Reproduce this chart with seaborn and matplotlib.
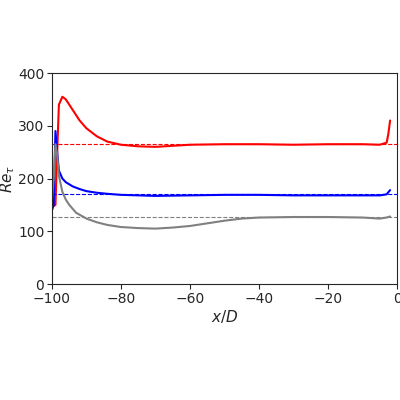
import matplotlib
matplotlib.use("Agg")
import matplotlib.pyplot as plt
import seaborn as sns

sns.set_style("ticks")
plt.rcParams['font.family'] = ['DejaVu Sans']
plt.rcParams['mathtext.fontset'] = 'dejavusans'

x_red = [-100, -99.5, -99, -98.5, -98, -97, -96, -94, -92, -90, -87, -84, -80, -75, -70, -65, -60, -50, -40, -30, -20, -10, -5, -3, -2.5, -2]
y_red = [175, 148, 150, 250, 340, 355, 350, 330, 310, 295, 280, 270, 264, 261, 260, 262, 264, 265, 265, 264, 265, 265, 264, 268, 285, 310]
x_blue = [-100, -99.5, -99, -98.5, -98, -97, -96, -94, -92, -90, -87, -84, -80, -70, -60, -50, -40, -30, -20, -10, -5, -3, -2]
y_blue = [140, 150, 290, 250, 215, 200, 193, 185, 180, 176, 173, 171, 169, 167, 168, 169, 169, 168, 168, 168, 168, 170, 178]
x_gray = [-100, -99.5, -99, -98.5, -98, -97, -96, -95, -93, -90, -87, -84, -80, -75, -70, -65, -60, -55, -50, -45, -40, -30, -20, -10, -5, -3, -2]
y_gray = [160, 200, 265, 245, 205, 175, 160, 150, 135, 124, 117, 112, 108, 106, 105, 107, 110, 115, 120, 124, 126, 127, 127, 126, 124, 126, 128]
ref_levels = [265, 170, 127]
colors = ['red', 'blue', 'gray']

fig = plt.figure(figsize=(4, 4), dpi=100)
ax = fig.add_axes([0.13, 0.29, 0.8625, 0.5275])
for xs, ys, c, lvl in zip([x_red, x_blue, x_gray], [y_red, y_blue, y_gray], colors, ref_levels):
    sns.lineplot(x=xs, y=ys, color=c, lw=1.5, ax=ax, estimator=None)
    ax.axhline(lvl, color=c, ls='--', lw=0.8)
ax.set_xlim(-100, 0)
ax.set_ylim(0, 400)
ax.set_xticks([-100, -80, -60, -40, -20, 0])
ax.set_yticks([0, 100, 200, 300, 400])
ax.tick_params(labelsize=10, pad=2)
ax.set_xlabel(r'$x/D$', fontsize=11, labelpad=2)
ax.set_ylabel(r'$Re_\tau$', fontsize=11, labelpad=1)
fig.savefig("out.png")
